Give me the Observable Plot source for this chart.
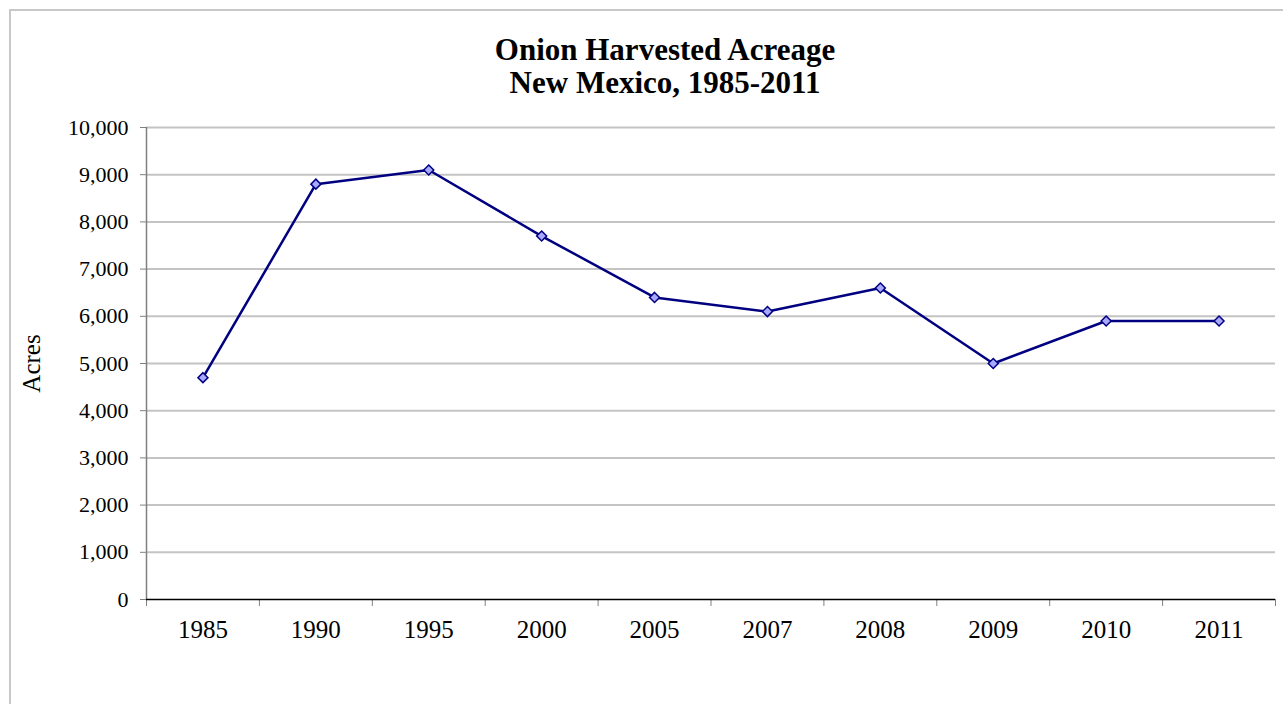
<!DOCTYPE html>
<html>
<head>
<meta charset="utf-8">
<script src="https://cdn.jsdelivr.net/npm/d3@7"></script>
<script src="https://cdn.jsdelivr.net/npm/@observablehq/plot@0.6"></script>
<style>
  html, body { margin: 0; padding: 0; background: #fff; overflow: hidden; }
  body { width: 1283px; height: 704px; position: relative; font-family: "Liberation Serif", "Times New Roman", serif; color: #000; }
  #frame { position: absolute; left: 9px; top: 9px; width: 1400px; height: 800px; border: 2px solid #c8c8c8; box-sizing: border-box; }
  #title { position: absolute; left: 9px; width: 1312px; top: 33px; text-align: center; font-weight: bold; font-size: 31px; line-height: 33px; }
  #chart { position: absolute; left: 0; top: 110px; }
</style>
</head>
<body>
<div id="frame"></div>
<div id="title">Onion Harvested Acreage<br>New Mexico, 1985-2011</div>
<div id="chart"></div>
<script>
const years = ["1985", "1990", "1995", "2000", "2005", "2007", "2008", "2009", "2010", "2011"];
const acres = [4700, 8800, 9100, 7700, 6400, 6100, 6600, 5000, 5900, 5900];
const yTicks = [0, 1000, 2000, 3000, 4000, 5000, 6000, 7000, 8000, 9000, 10000];
const yLabel = "Acres";

const data = years.map((y, i) => ({i, year: y, value: acres[i]}));
const idx = d3.range(years.length);
const bounds = d3.range(years.length + 1).map(k => k - 0.5);

const chart = Plot.plot({
  width: 1283,
  height: 594,
  marginTop: 17,
  marginBottom: 105,
  marginLeft: 146,
  marginRight: 8,
  style: {fontFamily: '"Liberation Serif", "Times New Roman", serif', color: "#000", background: "transparent"},
  x: {type: "linear", domain: [-0.5, years.length - 0.5]},
  y: {domain: [0, 10000]},
  marks: [
    Plot.gridY(yTicks.filter(d => d > 0), {stroke: "#c4c4c4", strokeWidth: 2, strokeOpacity: 1}),
    Plot.ruleX([-0.5], {y1: 0, y2: 10000, stroke: "#808080", strokeWidth: 1.5}),
    Plot.axisY({ticks: yTicks, tickFormat: d3.format(","), tickSize: 6, tickPadding: 12, fontSize: 22, stroke: "#808080", label: null}),
    Plot.axisY({ticks: [], label: yLabel, labelAnchor: "center", labelArrow: "none", labelOffset: 124, fontSize: 25}),
    Plot.axisX({ticks: bounds, tickFormat: () => "", tickSize: 7, stroke: "#808080", label: null}),
    Plot.axisX({ticks: idx, tickFormat: i => years[i], tickSize: 0, tickPadding: 21, fontSize: 25, label: null}),
    Plot.ruleY([0], {stroke: "#000", strokeWidth: 1.5}),
    Plot.line(data, {x: "i", y: "value", stroke: "#000080", strokeWidth: 2.5}),
    Plot.dot(data, {x: "i", y: "value", symbol: "diamond2", r: 4.5, fill: "#a8a8ff", stroke: "#000080", strokeWidth: 1.5})
  ]
});
document.getElementById("chart").appendChild(chart);
</script>
</body>
</html>
